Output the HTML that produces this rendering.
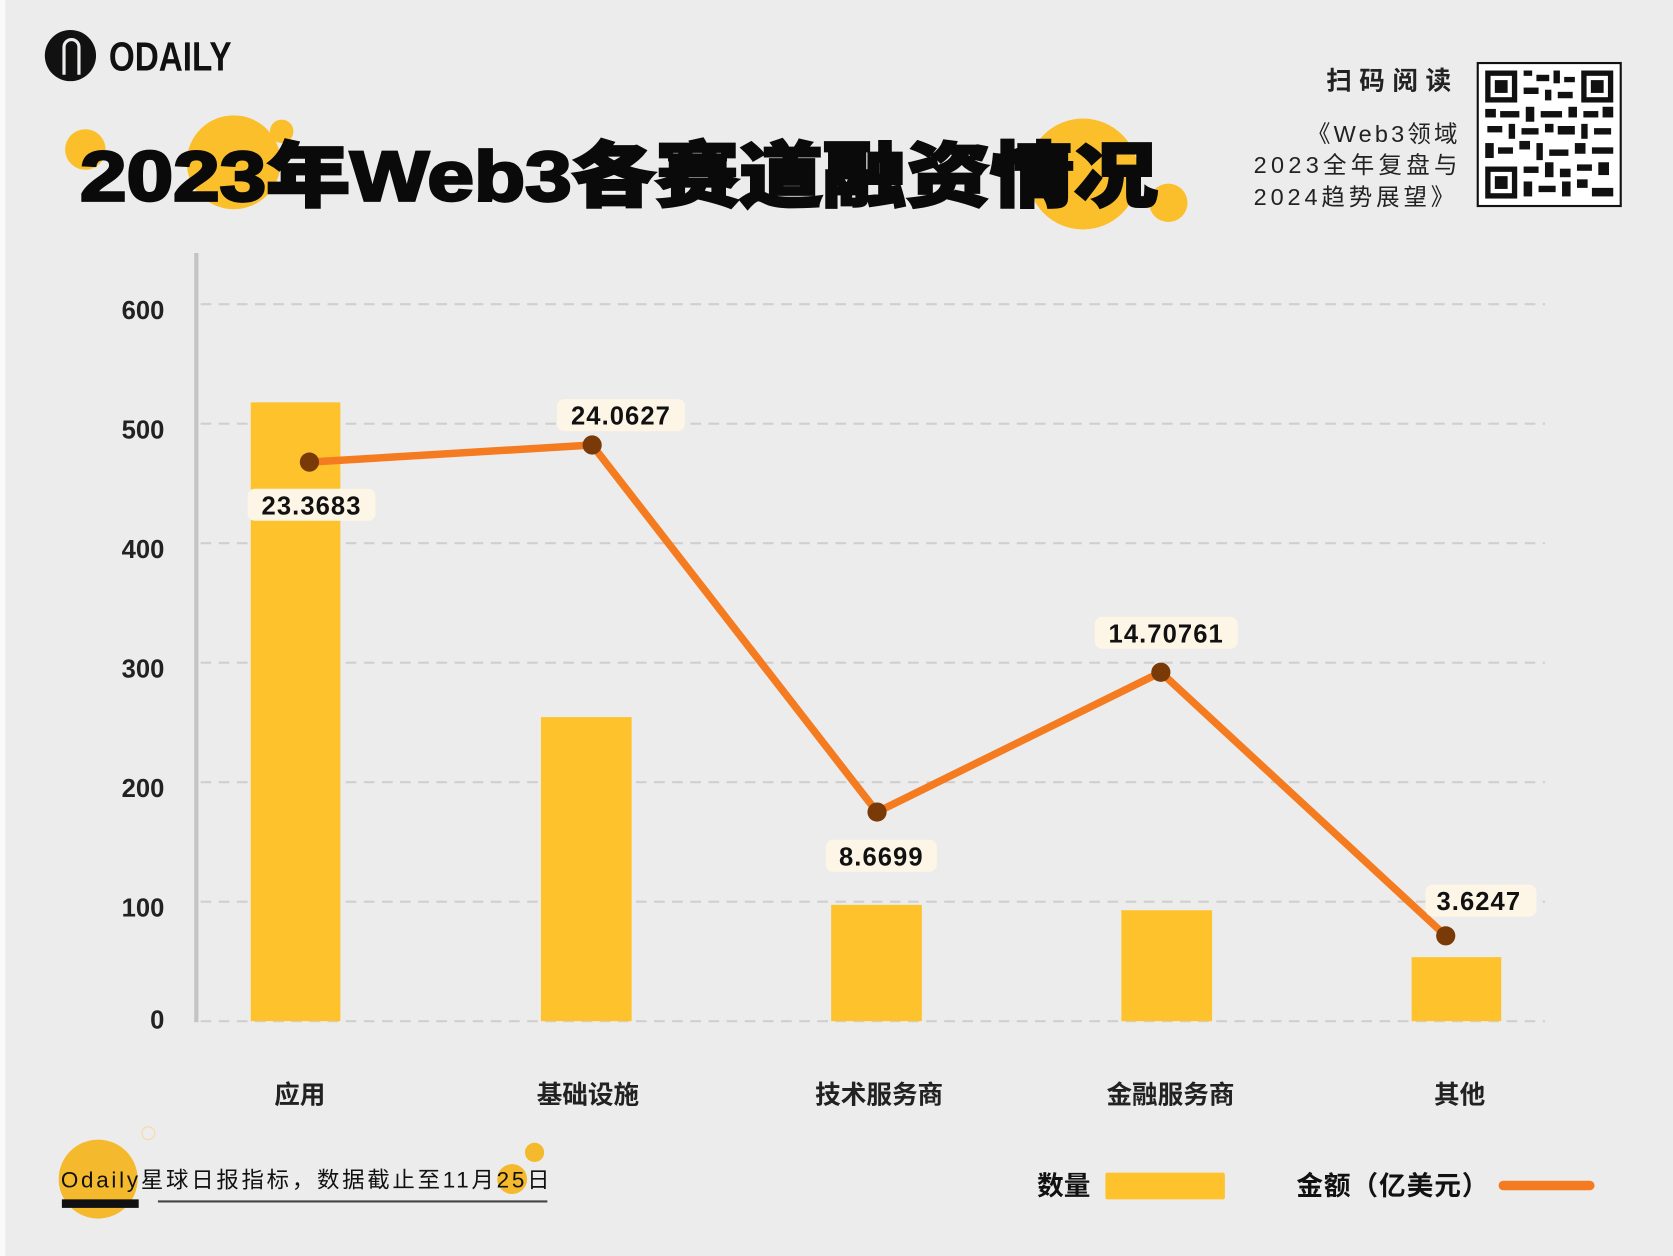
<!DOCTYPE html>
<html><head><meta charset="utf-8"><style>
html,body{margin:0;padding:0;background:#ececeb;}
svg{display:block}
text{font-family:"Liberation Sans","Noto Sans CJK SC",sans-serif;}
</style></head><body>
<svg width="1673" height="1256" viewBox="0 0 1568 1177" xmlns="http://www.w3.org/2000/svg">
<rect x="0" y="0" width="1568" height="1177" fill="#edecec"/>
<rect x="0" y="0" width="5" height="1177" fill="#fafafa"/>
<!-- logo -->
<circle cx="66" cy="52" r="24" fill="#111"/>
<path d="M60 70 V44 a7 7 0 0 1 14 0 V70" fill="none" stroke="#ececeb" stroke-width="3"/>
<text x="102" y="66" font-size="38" font-weight="bold" fill="#111" textLength="115" lengthAdjust="spacingAndGlyphs">ODAILY</text>
<!-- title deco -->
<circle cx="80" cy="140" r="19" fill="#fbbf2c"/>
<circle cx="264" cy="123" r="11" fill="#fbbf2c"/>
<circle cx="219" cy="152" r="44" fill="#fbbf2c"/>
<circle cx="1015" cy="163" r="52" fill="#fbbf2c"/>
<circle cx="1095" cy="190" r="18" fill="#fbbf2c"/>
<text x="75" y="188" font-size="66" font-weight="900" fill="#0a0a0a" textLength="1010" lengthAdjust="spacingAndGlyphs" stroke="#0a0a0a" stroke-width="2.5" font-family="'Noto Sans CJK SC',sans-serif">2023年Web3各赛道融资情况</text>
<!-- top right -->
<text x="1243" y="84" font-size="24" font-weight="bold" fill="#222" textLength="117" lengthAdjust="spacing" font-family="'Noto Sans CJK SC',sans-serif">扫码阅读</text>
<text x="1225" y="133" font-size="22" fill="#222" textLength="141" lengthAdjust="spacing">《Web3领域</text>
<text x="1175" y="162" font-size="22" fill="#222" textLength="191" lengthAdjust="spacing">2023全年复盘与</text>
<text x="1175" y="192" font-size="22" fill="#222" textLength="188" lengthAdjust="spacing">2024趋势展望》</text>
<rect x="1385" y="59" width="134" height="134" fill="#fff" stroke="#111" stroke-width="2"/>
<g fill="#111">
<rect x="1392" y="66" width="30" height="30"/><rect x="1397" y="71" width="20" height="20" fill="#fff"/><rect x="1401" y="75" width="12" height="12"/>
<rect x="1482" y="66" width="30" height="30"/><rect x="1487" y="71" width="20" height="20" fill="#fff"/><rect x="1491" y="75" width="12" height="12"/>
<rect x="1392" y="156" width="30" height="30"/><rect x="1397" y="161" width="20" height="20" fill="#fff"/><rect x="1401" y="165" width="12" height="12"/>
<rect x="1428" y="66" width="8" height="5"/><rect x="1440" y="70" width="12" height="6"/><rect x="1456" y="66" width="6" height="12"/><rect x="1466" y="72" width="10" height="5"/>
<rect x="1428" y="82" width="14" height="6"/><rect x="1448" y="84" width="6" height="10"/><rect x="1460" y="86" width="14" height="6"/>
<rect x="1392" y="102" width="10" height="8"/><rect x="1406" y="104" width="18" height="6"/><rect x="1430" y="100" width="8" height="14"/><rect x="1444" y="104" width="20" height="6"/><rect x="1470" y="100" width="8" height="10"/><rect x="1484" y="104" width="14" height="6"/><rect x="1502" y="100" width="10" height="10"/>
<rect x="1394" y="118" width="14" height="6"/><rect x="1414" y="116" width="6" height="14"/><rect x="1426" y="120" width="16" height="6"/><rect x="1448" y="116" width="8" height="8"/><rect x="1460" y="118" width="16" height="8"/><rect x="1482" y="116" width="6" height="14"/><rect x="1494" y="120" width="16" height="6"/>
<rect x="1392" y="134" width="8" height="14"/><rect x="1404" y="138" width="14" height="6"/><rect x="1424" y="132" width="10" height="8"/><rect x="1440" y="134" width="6" height="16"/><rect x="1452" y="140" width="18" height="6"/><rect x="1476" y="134" width="10" height="10"/><rect x="1492" y="138" width="20" height="6"/>
<rect x="1428" y="156" width="14" height="6"/><rect x="1448" y="152" width="8" height="14"/><rect x="1462" y="158" width="10" height="8"/><rect x="1478" y="154" width="14" height="6"/><rect x="1498" y="152" width="10" height="12"/>
<rect x="1428" y="170" width="8" height="14"/><rect x="1442" y="174" width="16" height="6"/><rect x="1464" y="170" width="8" height="14"/><rect x="1478" y="168" width="10" height="8"/><rect x="1492" y="176" width="20" height="8"/>
</g>
<!-- grid -->
<g stroke="#cfcfcf" stroke-width="2" stroke-dasharray="10 7">
<line x1="188" y1="285" x2="1448" y2="285"/><line x1="188" y1="397" x2="1448" y2="397"/><line x1="188" y1="509" x2="1448" y2="509"/><line x1="188" y1="621" x2="1448" y2="621"/><line x1="188" y1="733" x2="1448" y2="733"/><line x1="188" y1="845" x2="1448" y2="845"/><line x1="188" y1="957" x2="1448" y2="957"/>
</g>
<line x1="184" y1="237" x2="184" y2="958" stroke="#c4c4c4" stroke-width="4"/>
<g font-size="24" font-weight="bold" fill="#222" text-anchor="end">
<text x="154" y="299">600</text><text x="154" y="411">500</text><text x="154" y="523">400</text><text x="154" y="635">300</text><text x="154" y="747">200</text><text x="154" y="859">100</text><text x="154" y="964">0</text>
</g>
<g fill="#fec22d">
<rect x="235" y="377" width="84" height="580"/><rect x="507" y="672" width="85" height="285"/><rect x="779" y="848" width="85" height="109"/><rect x="1051" y="853" width="85" height="104"/><rect x="1323" y="897" width="84" height="60"/>
</g>
<polyline points="290,433 555,417 822,761 1088,630 1355,877" fill="none" stroke="#f47b20" stroke-width="7" stroke-linejoin="round"/>
<g fill="#7a3a08"><circle cx="290" cy="433" r="9"/><circle cx="555" cy="417" r="9"/><circle cx="822" cy="761" r="9"/><circle cx="1088" cy="630" r="9"/><circle cx="1355" cy="877" r="9"/></g>
<g fill="#fdf5e6"><rect x="232" y="458" width="120" height="30" rx="7"/><rect x="522" y="374" width="120" height="30" rx="7"/><rect x="774" y="787" width="104" height="30" rx="7"/><rect x="1026" y="578" width="134" height="30" rx="7"/><rect x="1336" y="829" width="104" height="30" rx="7"/></g>
<g font-size="24" font-weight="bold" fill="#111" text-anchor="middle" letter-spacing="1">
<text x="292" y="482">23.3683</text><text x="582" y="398">24.0627</text><text x="826" y="811">8.6699</text><text x="1093" y="602">14.70761</text><text x="1386" y="853">3.6247</text>
</g>
<g font-size="24" font-weight="bold" fill="#222" text-anchor="middle">
<text x="281" y="1034">应用</text><text x="551" y="1034">基础设施</text><text x="824" y="1034">技术服务商</text><text x="1097" y="1034">金融服务商</text><text x="1368" y="1034">其他</text>
</g>
<!-- footer -->
<circle cx="139" cy="1062" r="6" fill="none" stroke="#f5d9a0" stroke-width="1"/>
<circle cx="92" cy="1105" r="37" fill="#f5b92d"/>
<circle cx="501" cy="1080" r="9" fill="#f5b92d"/>
<circle cx="480" cy="1105" r="14" fill="#f5b92d"/>
<text x="57" y="1113" font-size="21" fill="#111" textLength="458" lengthAdjust="spacing">Odaily星球日报指标，数据截止至11月25日</text>
<rect x="58" y="1124" width="72" height="8" fill="#111"/>
<line x1="148" y1="1126" x2="513" y2="1126" stroke="#444" stroke-width="2"/>
<text x="972" y="1120" font-size="25" font-weight="bold" fill="#111">数量</text>
<rect x="1036" y="1099" width="112" height="25" rx="2" fill="#fec22d"/>
<text x="1215" y="1120" font-size="25" font-weight="bold" fill="#111" textLength="180" lengthAdjust="spacing">金额（亿美元）</text>
<line x1="1409" y1="1111" x2="1490" y2="1111" stroke="#f47b20" stroke-width="9" stroke-linecap="round"/>
</svg>
</body></html>
